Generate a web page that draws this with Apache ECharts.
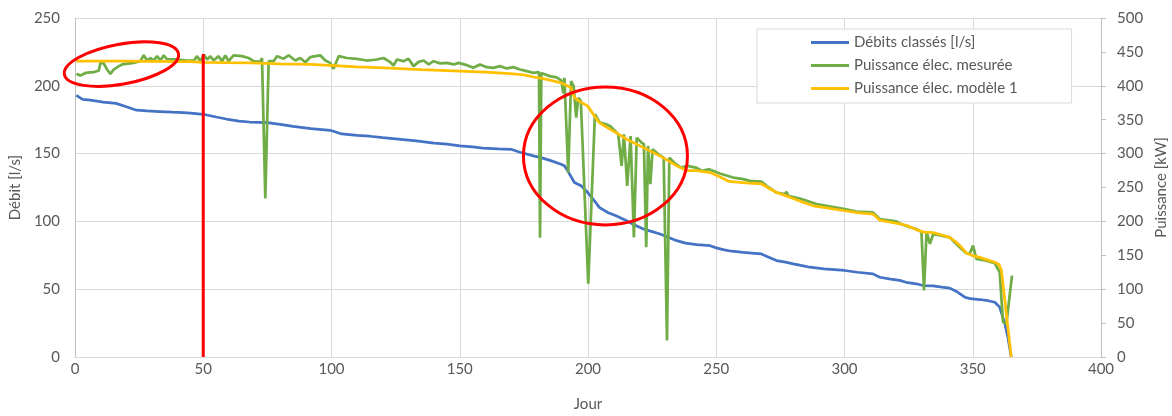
<!DOCTYPE html>
<html>
<head>
<meta charset="utf-8">
<script src="https://cdn.jsdelivr.net/npm/echarts@6/dist/echarts.min.js"></script>
<style>
  html, body { margin: 0; padding: 0; background: #fff; }
  #chart { width: 1172px; height: 416px; }
</style>
</head>
<body>
<div id="chart"></div>
<script>
// Ranked daily flow [day, l/s]
const debitsClasses = [
  [0.5,193],[1,192.5],[3,190],[6,189.5],[11,188],[16,187],[20,184.5],[24,182],[28,181.5],[33,181],
  [38,180.5],[44,180],[50,179],[55,177],[59,175.5],[64,174],[68,173.3],[75,172.8],[80,171.5],[85,170],
  [92,168.4],[99.5,167.2],[104,164.5],[110,163.5],[115,162.8],[120,161.8],[127,160.5],[133,159.3],[140,157.8],[145,157],
  [150,155.7],[155,155],[159,154],[165,153.5],[170,153.2],[173.5,151],[178.7,148.3],[181.7,147],[185.2,145],[189.5,142.2],
  [190.8,141],[192.1,137.3],[194.7,128.7],[197.3,126.3],[199.9,121.3],[202.5,115.2],[204.4,110.3],[207.7,106.6],[210.9,104.2],[215.1,100.5],
  [218,97.5],[221.6,94.4],[225,92.5],[228.1,90.7],[231,88.5],[234.6,85.8],[238,84],[242.4,82.9],[247.6,82.1],[250,80.5],
  [252.7,79.2],[256,78],[260.5,77.2],[265,76.5],[267.6,76],[270,74],[273.5,71.1],[277,70],[280,68.7],[283,67.5],
  [286.5,66.2],[292,65],[300,63.8],[305,62.5],[311.1,61.3],[313.7,58.8],[318,57.5],[321.5,56.5],[324,55.1],[328,54],
  [330.6,52.7],[334.5,52.5],[338,51.5],[341,50.8],[343.5,48.5],[346.9,44.1],[349,43],[352.7,42.4],[356,41.5],[358.6,40.4],
  [360.5,36.8],[362.5,24.5],[363.7,14.7],[365,0]
];

// Measured electrical power [day, kW]
const puissanceMesuree = [
  [0.6,417.6],[2.1,415.3],[4.1,419],[4.7,421.6],[7.3,420],[9.3,422.6],[9.9,433.8],[11.2,433],[12.5,424],[13.8,417.6],
  [15.1,424],[17.1,429],[18.4,431.5],[19.7,432.4],[22.3,433.4],[25.5,436.3],[26.8,445],[28.1,437.3],[29.4,441],[30.7,437.3],
  [32,443.7],[33.3,437.3],[34.6,445],[35.9,438.8],[39.8,438.8],[43,437.5],[46.3,437],[47.6,443.7],[48.9,436.3],[50.2,446],
  [51.5,438.8],[52.8,443.7],[54,437.3],[56,443.7],[57.3,436.3],[58.6,444.7],[59.9,436.3],[61.8,445],[65.1,443.7],[67.7,441],
  [69.6,436.3],[72.2,435.3],[72.9,441],[74.2,234],[75.5,436.3],[77.4,436.3],[78.8,443.7],[81.3,440],[83.3,445],[85.9,437.3],
  [87.8,441],[89.8,434.8],[91.7,442.2],[93.7,443.7],[95.6,445],[97.6,437.3],[99.5,433.8],[100.8,425],[102.8,443.7],[106,441],
  [109.9,439.7],[113.8,437.3],[117.7,438.8],[120.3,441],[122.9,434.8],[124.2,430],[125.5,438.8],[128.1,436.3],[130,440],[132,429],
  [134,435.3],[135.9,437.3],[137.9,431.5],[139.8,436.3],[142.4,433],[145,433.8],[147.6,431.5],[149.5,433.8],[152.8,430.4],[155.3,426.5],
  [157.9,431.5],[160.5,427.5],[163.1,426.5],[165.7,429],[168.3,425.6],[170.9,427.5],[173.5,424],[176.1,421.6],[178.7,419.1],[180.9,420],
  [181.3,176],[181.8,419],[182.5,416.7],[185.1,414.3],[187.7,412.5],[189.6,408],[190.4,388.8],[190.8,411.8],[192.3,272],[193.4,407],
  [194.4,399.5],[195.4,353],[196.2,382],[197.2,378],[200.1,108],[202.7,358],[204.6,345.6],[207.2,343],[208.6,340.7],[211.8,328.5],
  [213.1,281.9],[214,328.5],[215.3,252.5],[216.6,326],[217.9,176.5],[219,323.5],[220.9,316.2],[221.8,314],[222.7,161.8],[223.4,311.3],
  [224.3,255],[225.2,306.5],[227.5,299],[229.5,294],[230.8,24.5],[231.7,294],[234.3,284.4],[236.2,279.4],[238.8,281.9],[242,279.4],
  [244.6,274.5],[247.2,277],[251.4,270.6],[256.6,264.7],[260.5,262.4],[263.1,259.8],[267.6,258.8],[269.6,252.5],[273.5,242.6],[276.7,240.3],
  [277.4,243.7],[278,237.8],[282.6,233.8],[289.1,225.6],[293,223],[300.1,218.3],[304.7,214.3],[311.1,213.2],[313.7,203.5],[320.2,200],
  [321.5,197],[325,192],[328,188.8],[330,184.5],[331,98],[332,185],[333.3,166.8],[334.6,181.5],[341,176.5],[344.9,161.8],
  [347.5,153],[348.8,152.4],[350.1,164.3],[351.4,144.7],[355.3,142.2],[358.6,138.2],[360.5,125],[361.8,51.5],[363.1,49],[365.3,120]
];

// Modelled electrical power, model 1 [day, kW]
const puissanceModele1 = [
  [0.5,436.3],[10,436.3],[20,436.3],[30,436],[40,435.5],[45,435.5],[50,434.5],[60,434],[68.4,433.8],[80,432.5],
  [91.7,431.5],[99.5,430],[110,428],[120.3,426.5],[135,424],[150,421.6],[160,420],[169.6,418],[175,416],[178.7,413],
  [182,411],[185.2,408.4],[189.5,404.4],[193.4,397],[194.7,382.5],[196.6,377.5],[199.9,370],[202.5,355.4],[204.4,345.6],[207.7,338],
  [210.9,331],[215.1,321.2],[221.6,308.8],[228.1,296.6],[234.6,281.9],[238.5,275],[242.4,275],[247.6,272],[251.3,265.7],[255,259],
  [259.1,257.4],[263,256.5],[267.6,255.5],[270,250],[273.5,242.6],[277,238],[280,233.8],[284,228],[287.8,223],[293,220],
  [300.1,215.7],[305,213],[311.1,210.8],[313.7,202],[317,199.5],[321.5,196.5],[325,193],[328,187.8],[331,184],[334.5,183.5],
  [338,180],[341,176.5],[343,171],[345,164.3],[347.6,153],[350,149.5],[352.7,147],[355,144],[358.6,139.7],[360.3,136],
  [361.2,127.5],[362.5,83.4],[365,0]
];

// Highlight marks: vertical marker at day 50 and two circled zones (data coordinates, l/s axis)
const markerDay = 50;
const markerTop = 223.5;
const zoneCentres = [[18.1, 216], [206.8, 148.3]];

const FONT = 'Lato, "Open Sans", sans-serif';
const TXT = '#595959';
const FS = 15;

const chart = echarts.init(document.getElementById('chart'), null, { renderer: 'canvas' });

chart.setOption({
  animation: false,
  backgroundColor: '#ffffff',
  textStyle: { fontFamily: FONT },
  grid: { left: 75, right: 71, top: 18, bottom: 59, containLabel: false, outerBoundsMode: 'none' },
  legend: {
    orient: 'vertical',
    left: 757,
    top: 29,
    padding: [6, 54, 7, 54],
    itemGap: 8,
    itemWidth: 38,
    itemHeight: 3,
    icon: 'rect',
    backgroundColor: '#ffffff',
    borderColor: '#D9D9D9',
    borderWidth: 1,
    borderRadius: 0,
    textStyle: { color: TXT, fontSize: FS, fontFamily: FONT },
    data: ['Débits classés [l/s]', 'Puissance élec. mesurée', 'Puissance élec. modèle 1']
  },
  xAxis: {
    type: 'value',
    min: 0, max: 400, interval: 50,
    name: 'Jour',
    nameLocation: 'middle',
    nameGap: 40,
    nameTextStyle: { color: TXT, fontSize: FS, fontFamily: FONT },
    axisLine: { show: true, lineStyle: { color: '#D9D9D9', width: 1 } },
    axisTick: { show: false },
    axisLabel: { color: TXT, fontSize: FS, margin: 5, fontFamily: FONT },
    splitLine: { show: true, lineStyle: { color: '#D9D9D9', width: 1 } }
  },
  yAxis: [
    {
      type: 'value',
      min: 0, max: 250, interval: 50,
      name: 'Débit [l/s]',
      nameLocation: 'middle',
      nameRotate: 90,
      nameGap: 47,
      nameTextStyle: { color: TXT, fontSize: FS, fontFamily: FONT },
      axisLine: { show: true, lineStyle: { color: '#BFBFBF', width: 1 } },
      axisTick: { show: false },
      axisLabel: { color: TXT, fontSize: FS, margin: 15, fontFamily: FONT },
      splitLine: { show: true, lineStyle: { color: '#D9D9D9', width: 1 } }
    },
    {
      type: 'value',
      position: 'right',
      min: 0, max: 500, interval: 50,
      name: 'Puissance [kW]',
      nameLocation: 'middle',
      nameRotate: 90,
      nameGap: 53,
      nameTextStyle: { color: TXT, fontSize: FS, fontFamily: FONT },
      axisLine: { show: true, lineStyle: { color: '#BFBFBF', width: 1 } },
      axisTick: { show: true, inside: false, length: 5, lineStyle: { color: '#BFBFBF' } },
      axisLabel: { color: TXT, fontSize: FS, margin: 16, fontFamily: FONT },
      splitLine: { show: false }
    }
  ],
  series: [
    {
      name: 'Débits classés [l/s]',
      type: 'line',
      yAxisIndex: 0,
      data: debitsClasses,
      showSymbol: false,
      color: '#4472C4',
      lineStyle: { width: 2.75, color: '#4472C4' },
      z: 2
    },
    {
      name: 'Puissance élec. mesurée',
      type: 'line',
      yAxisIndex: 1,
      data: puissanceMesuree,
      showSymbol: false,
      color: '#70AD47',
      lineStyle: { width: 2.75, color: '#70AD47' },
      z: 3
    },
    {
      name: 'Puissance élec. modèle 1',
      type: 'line',
      yAxisIndex: 1,
      data: puissanceModele1,
      showSymbol: false,
      color: '#FFC000',
      lineStyle: { width: 2.75, color: '#FFC000' },
      z: 4
    },
    {
      name: 'repère',
      type: 'line',
      yAxisIndex: 0,
      data: [[markerDay, 0], [markerDay, markerTop]],
      showSymbol: false,
      color: '#FF0000',
      lineStyle: { width: 3, color: '#FF0000' },
      z: 10,
      silent: true
    }
  ]
});

// Circled zones, placed from data coordinates
function drawZones() {
  const c1 = chart.convertToPixel({ xAxisIndex: 0, yAxisIndex: 0 }, zoneCentres[0]);
  const c2 = chart.convertToPixel({ xAxisIndex: 0, yAxisIndex: 0 }, zoneCentres[1]);
  chart.setOption({
    graphic: [
      {
        type: 'ellipse', x: c1[0], y: c1[1], rotation: 0.18, z: 100, silent: true,
        shape: { cx: 0, cy: 0, rx: 58, ry: 20 },
        style: { fill: 'none', stroke: '#FF0000', lineWidth: 3 }
      },
      {
        type: 'ellipse', x: c2[0], y: c2[1], z: 100, silent: true,
        shape: { cx: 0, cy: 0, rx: 82, ry: 69 },
        style: { fill: 'none', stroke: '#FF0000', lineWidth: 3 }
      }
    ]
  });
}
drawZones();
</script>
</body>
</html>
